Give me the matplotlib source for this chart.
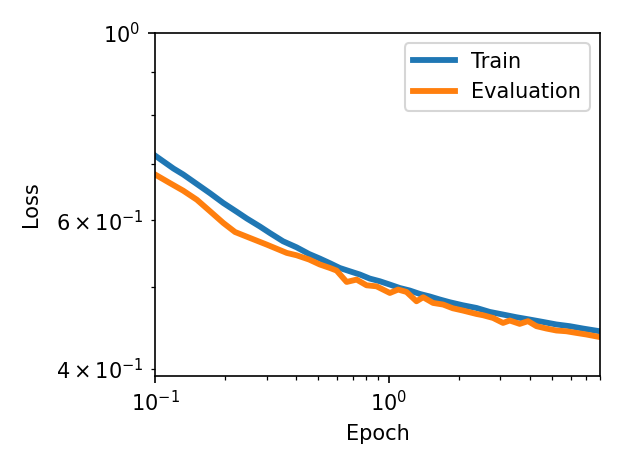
import matplotlib
matplotlib.use("Agg")
import matplotlib.pyplot as plt

# values (log-log axes)
train_epoch = [0.1, 0.12, 0.132, 0.151, 0.172, 0.196, 0.224, 0.247, 0.281, 0.31,
               0.353, 0.403, 0.456, 0.507, 0.56, 0.617, 0.681, 0.752, 0.829, 0.915,
               1.01, 1.114, 1.229, 1.357, 1.497, 1.652, 1.823, 2.071, 2.371, 2.702,
               3.079, 3.513, 4.005, 4.565, 5.208, 5.936, 6.767, 8.0]
train_loss = [0.716, 0.691, 0.680, 0.6625, 0.646, 0.629, 0.614, 0.603, 0.590, 0.5796,
              0.5667, 0.5575, 0.5474, 0.5406, 0.5338, 0.5269, 0.5222, 0.5176, 0.5119, 0.5082,
              0.5036, 0.4989, 0.4955, 0.4909, 0.4875, 0.4835, 0.4799, 0.476, 0.4725, 0.4674,
              0.4641, 0.4607, 0.4578, 0.4548, 0.4517, 0.4496, 0.4467, 0.4434]

eval_epoch = [0.1, 0.116, 0.132, 0.151, 0.172, 0.196, 0.22, 0.255, 0.3, 0.366,
              0.403, 0.456, 0.507, 0.56, 0.598, 0.66, 0.728, 0.803, 0.886, 1.01,
              1.096, 1.19, 1.313, 1.402, 1.546, 1.707, 1.877, 2.078, 2.371, 2.529,
              2.791, 3.079, 3.289, 3.629, 3.938, 4.278, 4.719, 5.208, 5.746, 6.34,
              6.997, 8.0]
eval_loss = [0.680, 0.664, 0.6506, 0.6347, 0.615, 0.5957, 0.5812, 0.5718, 0.5617, 0.549,
             0.5455, 0.5392, 0.5319, 0.5269, 0.5232, 0.5072, 0.5105, 0.5026, 0.5012, 0.4922,
             0.4968, 0.4936, 0.4812, 0.4865, 0.479, 0.4769, 0.4721, 0.4691, 0.4648, 0.4632,
             0.4598, 0.4536, 0.4566, 0.4524, 0.4558, 0.4496, 0.4467, 0.4443, 0.4434, 0.4414,
             0.4395, 0.4364]

fig = plt.figure(figsize=(623 / 150, 467 / 150), dpi=150)
ax = fig.add_axes([155 / 623, 0.1959, 445 / 623, 0.7334])

ax.plot(train_epoch, train_loss, lw=2.8, label="Train")
ax.plot(eval_epoch, eval_loss, lw=2.8, label="Evaluation")

ax.set_xscale("log")
ax.set_yscale("log")
ax.set_xlim(0.1, 8)
ax.set_ylim(0.393, 1.0)
ax.set_xlabel("Epoch")
ax.set_ylabel("Loss", labelpad=7)
ax.legend(loc="upper right")

fig.savefig("out.png", dpi=150)
